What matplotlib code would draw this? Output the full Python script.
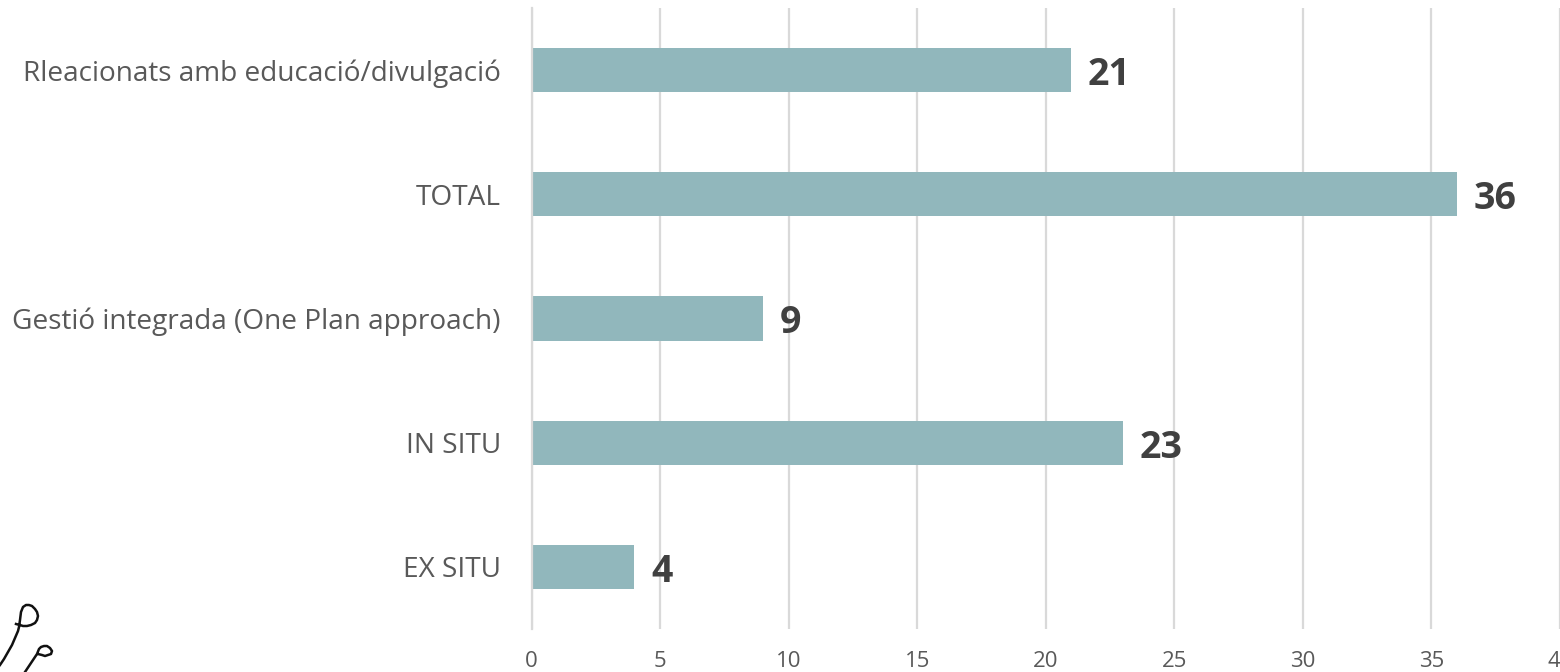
import matplotlib
matplotlib.use("Agg")
import matplotlib.pyplot as plt

# values, bottom to top
categories = ["EX SITU", "IN SITU", "Gestió integrada (One Plan approach)", "TOTAL", "Rleacionats amb educació/divulgació"]
values = [4, 23, 9, 36, 21]
xticks = [0, 5, 10, 15, 20, 25, 30, 35, 40]

# logo fragment in the bottom left corner, picture pixels
logo_a_x = [0, 4, 8, 12, 15, 18, 19, 20, 21, 23, 26, 29, 32, 35, 37, 38, 37, 35, 31, 27, 23, 20, 16]
logo_a_y = [665, 659, 652, 645, 638, 631, 627, 620, 612, 607, 605, 605, 606, 609, 612, 616, 620, 623, 625, 626, 626, 625, 624]
logo_b_x = [25, 29, 33, 37, 39, 41, 44, 47, 50, 52, 51, 48, 45, 42, 38]
logo_b_y = [672, 666, 660, 654, 649, 647, 646, 646, 648, 651, 654, 655, 656, 655, 654]

plt.rcParams['font.family'] = ['Open Sans', 'DejaVu Sans']

W, H = 1560, 672
fig = plt.figure(figsize=(W / 100, H / 100), dpi=100)

# axes box in pixels: x=0 at 531, x=35 at 1431, top 8, bottom 629
left = 531.5
right = left + 40 * 25.71
ax = fig.add_axes([left / W, 1 - 629 / H, (right - left) / W, (629 - 8) / H])
ax.set_xlim(0, 40)
ax.set_ylim(-0.5, 4.5)

ax.xaxis.grid(True, color="#d9d9d9", lw=1.6)
ax.set_axisbelow(True)
ax.barh(range(len(values)), values, height=0.355, color="#91b7bc")

for i, v in enumerate(values):
    ax.annotate(str(v), (v, i), xytext=(12, -3.5), textcoords="offset points", va="center", ha="left",
                fontsize=27, fontweight="bold", color="#404040")

for s in ["top", "right", "bottom"]:
    ax.spines[s].set_visible(False)
ax.spines["left"].set_color("#d9d9d9")
ax.spines["left"].set_linewidth(1.6)

ax.set_yticks(range(len(categories)))
ax.set_yticklabels(categories, fontsize=20.15, color="#595959")
ax.set_xticks(xticks)
ax.set_xticklabels([str(x) for x in xticks], fontsize=16, color="#595959")
ax.tick_params(axis="both", length=0)
ax.tick_params(axis="y", pad=22)
ax.tick_params(axis="x", pad=16)

# logo drawn in figure pixels
for xs, ys in [(logo_a_x, logo_a_y), (logo_b_x, logo_b_y)]:
    fig.add_artist(plt.Line2D([x / W for x in xs], [1 - y / H for y in ys], color="#111111", lw=1.8,
                              solid_joinstyle="round"))

fig.savefig("out.png", dpi=100)
